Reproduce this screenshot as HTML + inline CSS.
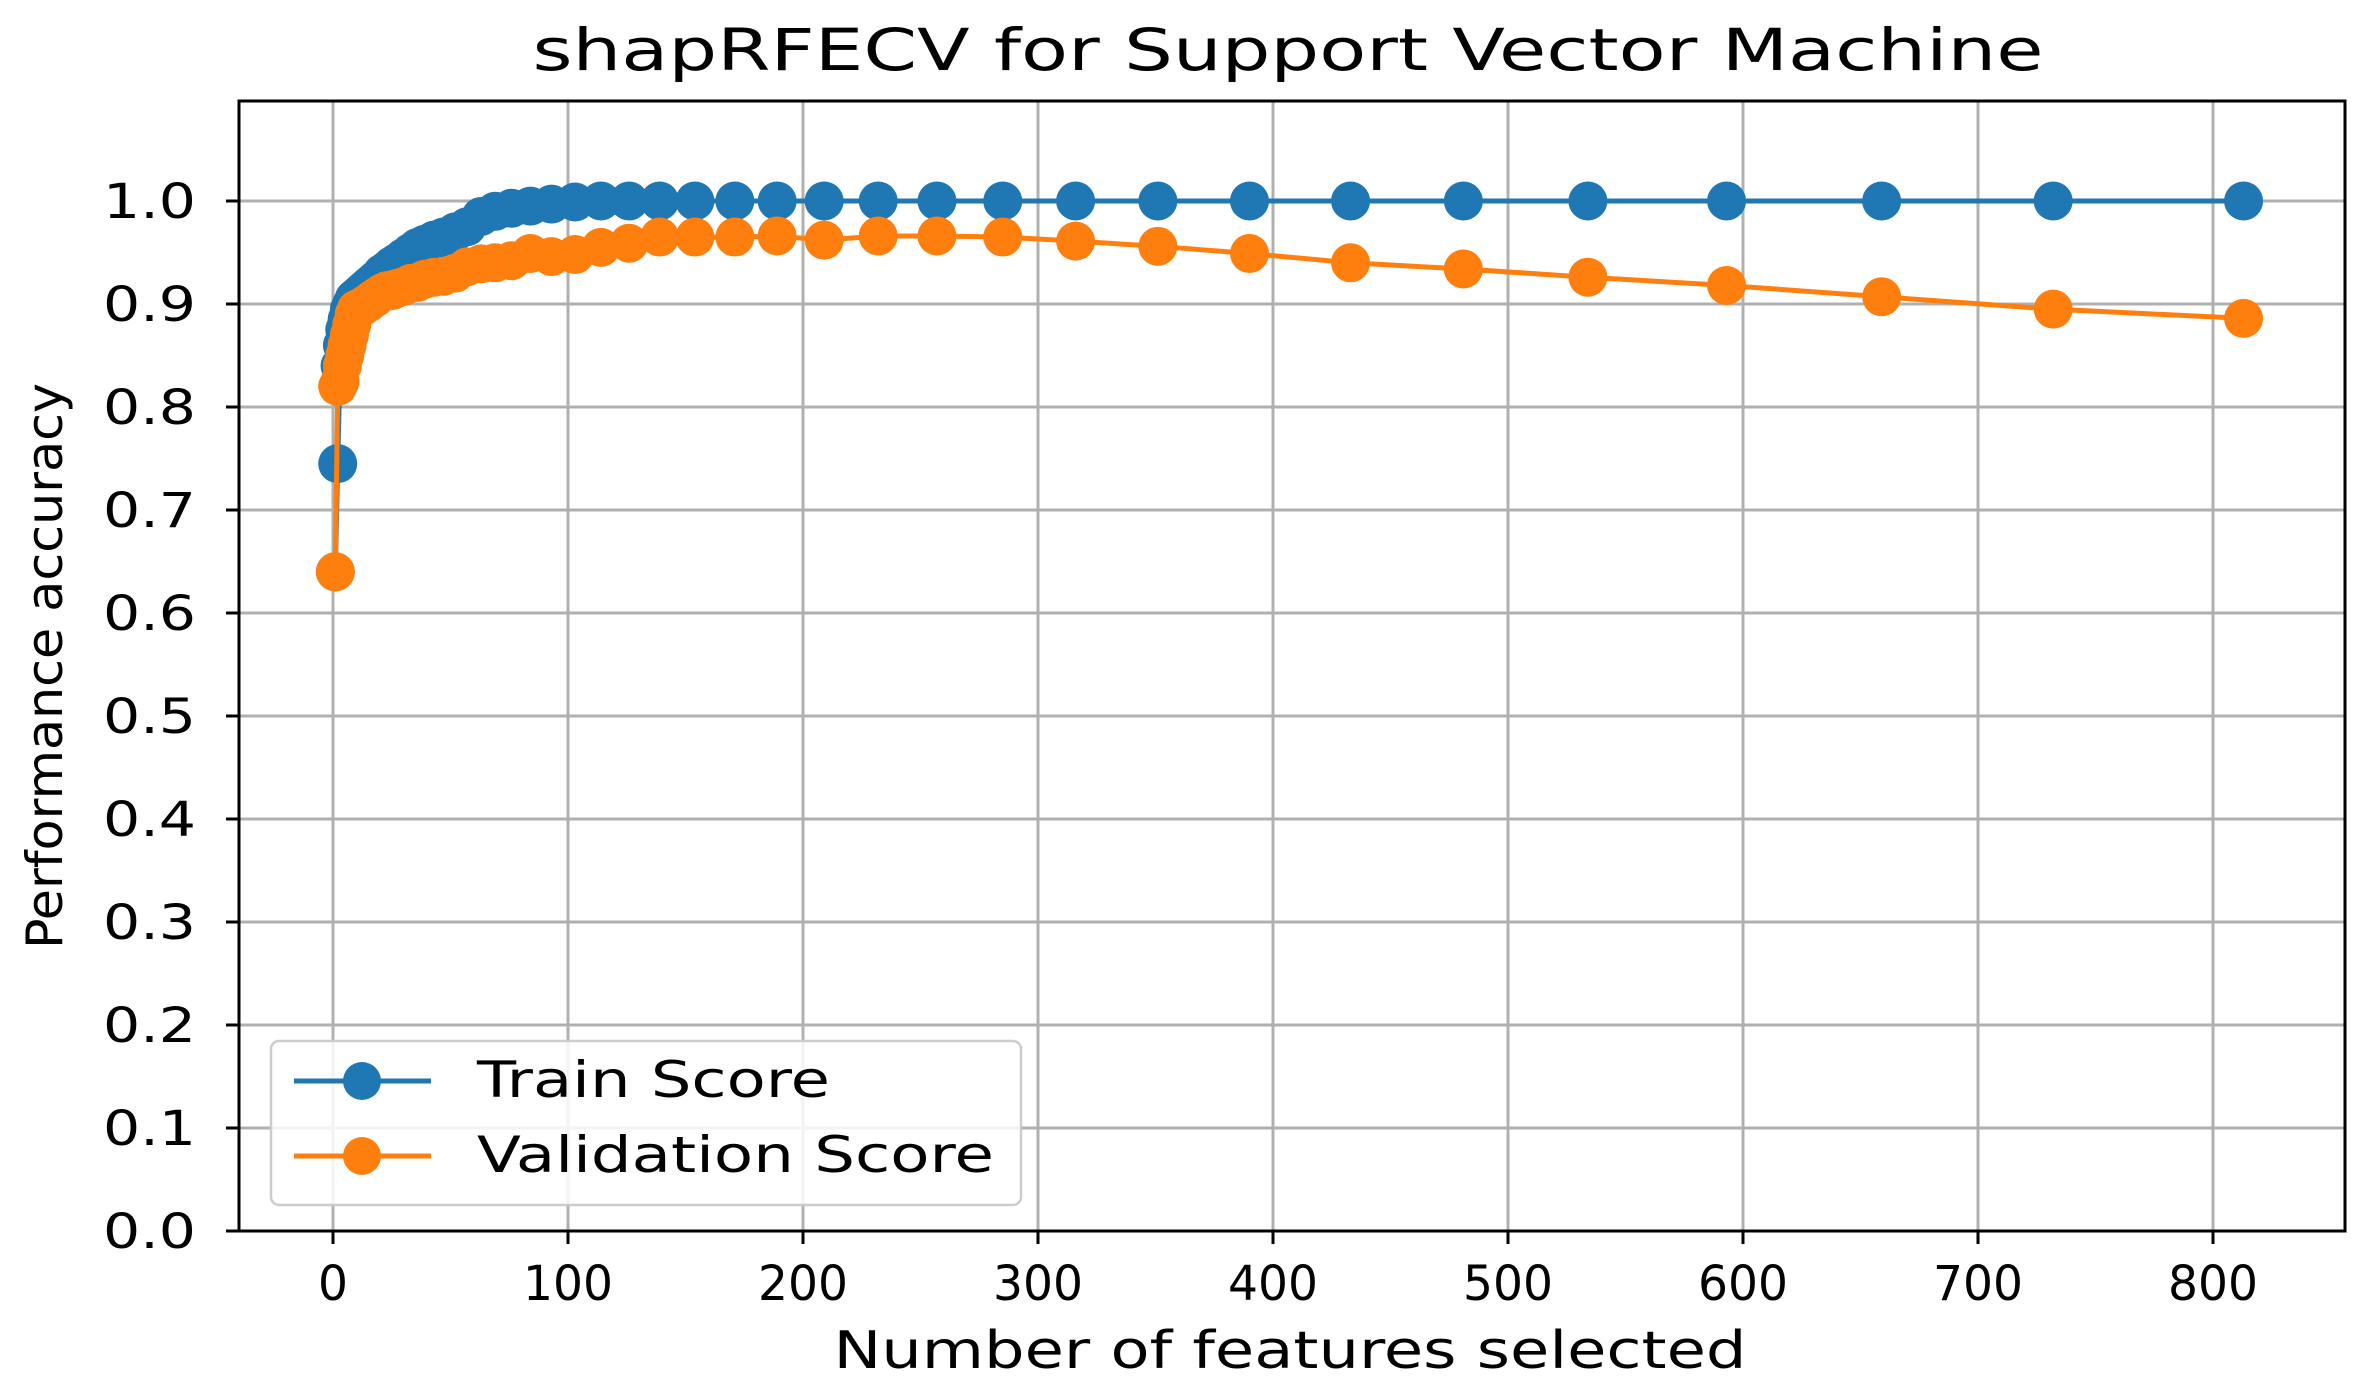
<!DOCTYPE html>
<html><head><meta charset="utf-8"><style>
html,body{margin:0;padding:0;background:#fff;}
svg{display:block;font-family:"DejaVu Sans","Liberation Sans",sans-serif;}
</style></head><body>
<svg id="chart" width="2354" height="1378" viewBox="0 0 2354 1378" xmlns="http://www.w3.org/2000/svg">
<rect width="2354" height="1378" fill="#fff"/>
<text x="1288" y="70" text-anchor="middle" font-size="58" textLength="1511" lengthAdjust="spacingAndGlyphs">shapRFECV for Support Vector Machine</text>
<g id="grid"></g>
<g id="series"></g>
<rect x="239" y="101" width="2106" height="1130" fill="none" stroke="#000" stroke-width="3"/>
<g id="ticks"></g>
<text transform="translate(62,666) rotate(-90)" text-anchor="middle" font-size="50" textLength="566" lengthAdjust="spacingAndGlyphs">Performance accuracy</text>
<text x="1290" y="1368" text-anchor="middle" font-size="52" textLength="913" lengthAdjust="spacingAndGlyphs">Number of features selected</text>
<g>
<rect x="271" y="1041" width="750" height="164" rx="8" fill="#fff" fill-opacity="0.85" stroke="#ccc" stroke-width="2.5"/>
<g>
<line x1="294" y1="1081" x2="431" y2="1081" stroke="#1f77b4" stroke-width="5"/>
<circle cx="362" cy="1081" r="19" fill="#1f77b4"/>
<text x="477" y="1097" font-size="50" textLength="353" lengthAdjust="spacingAndGlyphs">Train Score</text>
</g>
<g>
<line x1="294" y1="1156" x2="431" y2="1156" stroke="#ff7f0e" stroke-width="5"/>
<circle cx="362" cy="1156" r="19" fill="#ff7f0e"/>
<text x="477" y="1172" font-size="50" textLength="517" lengthAdjust="spacingAndGlyphs">Validation Score</text>
</g>
</g>
</svg>
<script>
const nFeatures = [813,732,659,593,534,481,433,390,351,316,285,257,232,209,189,171,154,139,126,114,103,93,84,76,69,63,57,52,47,43,39,36,33,30,27,25,23,21,19,18,17,16,15,14,13,12,11,10,9,8,7,6,5,4,3,2,1];
const trainScore = [1,1,1,1,1,1,1,1,1,1,1,1,1,1,1,1,1,1,1,1,0.999,0.997,0.995,0.993,0.99,0.985,0.975,0.97,0.965,0.962,0.958,0.955,0.95,0.945,0.94,0.937,0.933,0.93,0.925,0.923,0.921,0.919,0.917,0.915,0.913,0.911,0.909,0.907,0.905,0.9,0.895,0.885,0.875,0.86,0.84,0.745,0.64];
const valScore = [0.886,0.895,0.907,0.918,0.926,0.934,0.94,0.949,0.956,0.961,0.965,0.966,0.966,0.962,0.966,0.965,0.965,0.965,0.959,0.955,0.948,0.946,0.949,0.942,0.94,0.939,0.936,0.93,0.927,0.926,0.924,0.921,0.92,0.917,0.915,0.913,0.913,0.911,0.908,0.906,0.905,0.903,0.901,0.9,0.898,0.897,0.896,0.895,0.89,0.88,0.87,0.86,0.85,0.84,0.825,0.82,0.64];
const xTicks = [0,100,200,300,400,500,600,700,800];
const yTicks = [0,0.1,0.2,0.3,0.4,0.5,0.6,0.7,0.8,0.9,1.0];
const NS="http://www.w3.org/2000/svg";
const X = v => 333 + v*2.35;
const Y = v => 1231 - v*1030;
function mk(tag, parent){const e=document.createElementNS(NS,tag);parent.appendChild(e);return e;}
const grid=document.getElementById('grid'), ticks=document.getElementById('ticks'), series=document.getElementById('series');
xTicks.forEach(t=>{
  const g=mk('line',grid);
  
  
  g.setAttribute('x1',X(t));g.setAttribute('x2',X(t));g.setAttribute('y1',101);g.setAttribute('y2',1231);
  g.setAttribute('stroke','#b0b0b0');g.setAttribute('stroke-width','3');
  const tk=mk('line',ticks);
  
  
  tk.setAttribute('x1',X(t));tk.setAttribute('x2',X(t));tk.setAttribute('y1',1231);tk.setAttribute('y2',1244);
  tk.setAttribute('stroke','#000');tk.setAttribute('stroke-width','3');
  const tx=mk('text',ticks);
  
  
  tx.setAttribute('x',X(t));tx.setAttribute('y',1300);tx.setAttribute('text-anchor','middle');tx.setAttribute('font-size','48');
  const s=String(t); tx.setAttribute('textLength', s.length*30); tx.setAttribute('lengthAdjust','spacingAndGlyphs');
  tx.textContent=s;
});
yTicks.forEach(t=>{
  const g=mk('line',grid);
  
  
  g.setAttribute('x1',239);g.setAttribute('x2',2345);g.setAttribute('y1',Y(t));g.setAttribute('y2',Y(t));
  g.setAttribute('stroke','#b0b0b0');g.setAttribute('stroke-width','3');
  const tk=mk('line',ticks);
  
  
  tk.setAttribute('x1',226);tk.setAttribute('x2',239);tk.setAttribute('y1',Y(t));tk.setAttribute('y2',Y(t));
  tk.setAttribute('stroke','#000');tk.setAttribute('stroke-width','3');
  const tx=mk('text',ticks);
  
  
  tx.setAttribute('x',196);tx.setAttribute('y',Y(t)+17);tx.setAttribute('text-anchor','end');tx.setAttribute('font-size','48');
  tx.setAttribute('textLength',93);tx.setAttribute('lengthAdjust','spacingAndGlyphs');
  tx.textContent=t.toFixed(1);
});
function drawSeries(vals,color,name){
  const g=mk('g',series);
  
  
  const pl=mk('polyline',g);
  
  
  pl.setAttribute('points',nFeatures.map((n,i)=>X(n)+','+Y(vals[i])).join(' '));
  pl.setAttribute('fill','none');pl.setAttribute('stroke',color);pl.setAttribute('stroke-width','5');
  nFeatures.forEach((n,i)=>{
    const c=mk('circle',g);
    
    
    c.setAttribute('cx',X(n));c.setAttribute('cy',Y(vals[i]));c.setAttribute('r',19.5);c.setAttribute('fill',color);
  });
}
drawSeries(trainScore,'#1f77b4','train-score');
drawSeries(valScore,'#ff7f0e','validation-score');
</script>
</body></html>
